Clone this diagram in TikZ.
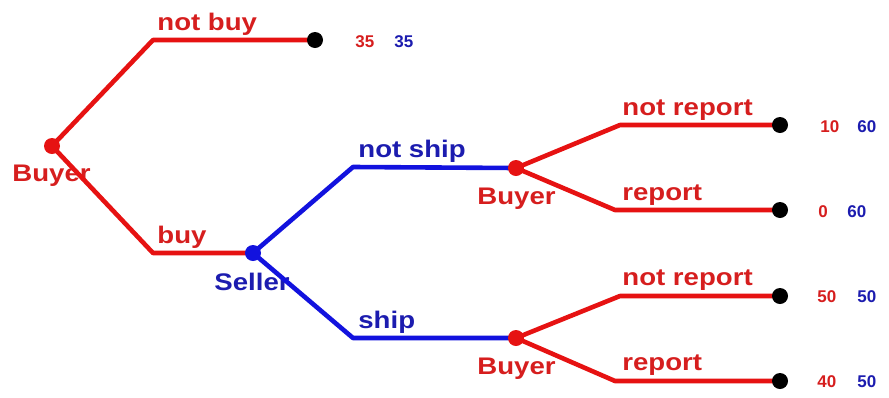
\documentclass[tikz,border=0pt]{standalone}
\usepackage{fontspec}
\setmainfont{Liberation Sans}
\newfontfamily\labfont{Liberation Sans}[FakeStretch=1.15]
\definecolor{lred}{RGB}{230,18,18}
\definecolor{tred}{RGB}{214,30,30}
\definecolor{lblue}{RGB}{18,18,222}
\definecolor{tblue}{RGB}{28,28,175}
\begin{document}
\begin{tikzpicture}[x=0.5pt,y=-0.5pt,
  redline/.style={draw=lred,line width=2.3pt,line join=round},
  blueline/.style={draw=lblue,line width=2.3pt,line join=round},
  dotnode/.style={circle,inner sep=0pt,minimum size=8pt},
  lab/.style={font=\labfont\bfseries\fontsize{12}{14}\selectfont,inner sep=0pt,anchor=base west},
  pay/.style={font=\bfseries\fontsize{8.5}{10}\selectfont,inner sep=0pt,anchor=base west}]
\useasboundingbox (0,0) rectangle (889,397);
% labels (drawn first, lines over them)
\node[lab,text=tred] (lroot) at (12,181) {Buyer};
\node[lab,text=tblue] (lseller) at (214,290) {Seller};
\node[lab,text=tred] (lb2) at (477,204) {Buyer};
\node[lab,text=tred] (lb3) at (477,374) {Buyer};
\node[lab,text=tred] (lnotbuy) at (157,30) {not buy};
\node[lab,text=tred] (lbuy) at (157,243) {buy};
\node[lab,text=tblue] (lnotship) at (358,157) {not ship};
\node[lab,text=tblue] (lship) at (358,328) {ship};
\node[lab,text=tred] (lnr1) at (622,115) {not report};
\node[lab,text=tred] (lr1) at (622,200) {report};
\node[lab,text=tred] (lnr2) at (622,285) {not report};
\node[lab,text=tred] (lr2) at (622,370) {report};
% payoffs
\node[pay,text=tred] (p1a) at (355,47) {35};
\node[pay,text=tblue] (p1b) at (394,47) {35};
\node[pay,text=tred] (p2a) at (820,132) {10};
\node[pay,text=tblue] (p2b) at (857,132) {60};
\node[pay,text=tred] (p3a) at (818,217) {0};
\node[pay,text=tblue] (p3b) at (847,217) {60};
\node[pay,text=tred] (p4a) at (817,302) {50};
\node[pay,text=tblue] (p4b) at (857,302) {50};
\node[pay,text=tred] (p5a) at (817,387) {40};
\node[pay,text=tblue] (p5b) at (857,387) {50};
% bend points
\coordinate (c1) at (153,40);
\coordinate (c2) at (153,253);
\coordinate (c3) at (353,167);
\coordinate (c4) at (353,338);
\coordinate (c5) at (620,125);
\coordinate (c6) at (615,210);
\coordinate (c7) at (620,296);
\coordinate (c8) at (615,381);
% decision and terminal nodes
\coordinate (root) at (52,146);
\coordinate (seller) at (253,253);
\coordinate (b2) at (516,168);
\coordinate (b3) at (516,338);
\coordinate (t1) at (315,40);
\coordinate (t2) at (780,125);
\coordinate (t3) at (780,210);
\coordinate (t4) at (780,296);
\coordinate (t5) at (780,381);
% branches
\draw[redline] (root) -- (c1) -- (t1);
\draw[redline] (root) -- (c2) -- (seller);
\draw[blueline] (seller) -- (c3) -- (b2);
\draw[blueline] (seller) -- (c4) -- (b3);
\draw[redline] (b2) -- (c5) -- (t2);
\draw[redline] (b2) -- (c6) -- (t3);
\draw[redline] (b3) -- (c7) -- (t4);
\draw[redline] (b3) -- (c8) -- (t5);
% dots
\node[dotnode,fill=lred] (droot) at (root) {};
\node[dotnode,fill=lblue] (dseller) at (seller) {};
\node[dotnode,fill=lred] (db2) at (b2) {};
\node[dotnode,fill=lred] (db3) at (b3) {};
\foreach \t in {t1,t2,t3,t4,t5}{\node[dotnode,fill=black] (d\t) at (\t) {};}
\end{tikzpicture}
\end{document}
